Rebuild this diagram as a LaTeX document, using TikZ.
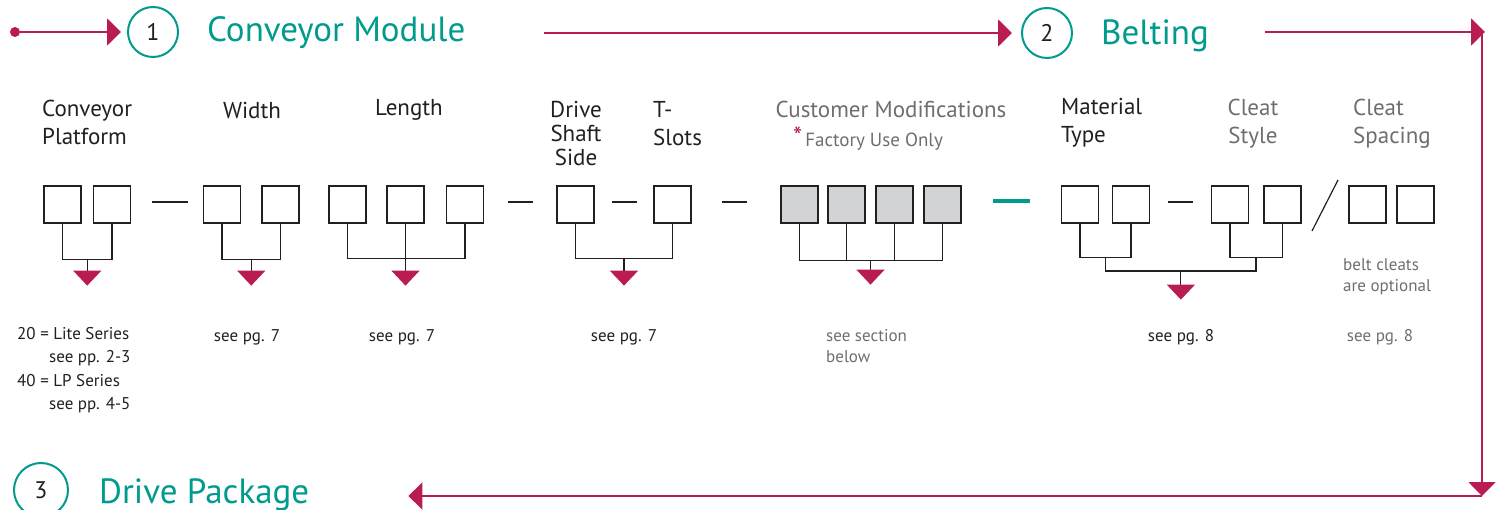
\documentclass[tikz,border=0pt]{standalone}
\usepackage{fontspec}
\setmainfont{PT Sans}
\usetikzlibrary{arrows.meta,calc}
\definecolor{crimson}{RGB}{184,28,82}
\definecolor{modteal}{RGB}{0,155,140}
\definecolor{ink}{RGB}{35,31,32}
\definecolor{dim}{RGB}{109,110,113}
\definecolor{cellgray}{RGB}{209,211,212}
\tikzset{
  cell/.style={draw=ink,line width=1.3pt,minimum size=37pt,inner sep=0pt},
  fcell/.style={cell,fill=cellgray},
  wire/.style={draw=ink,line width=1.2pt},
  drop/.style={wire,-{Triangle[width=28pt,length=15pt,color=crimson]}},
  flow/.style={draw=crimson,line width=2pt,-{Triangle[width=27pt,length=14pt]}},
  numring/.style={circle,draw=modteal,line width=2pt,minimum size=50pt,inner sep=0pt,
    text=ink,font=\fontsize{24}{28}\selectfont},
  head/.style={text=modteal,font=\fontsize{35}{40}\selectfont,anchor=base west,inner sep=0pt},
  field/.style={text=ink,font=\fontsize{23}{28}\selectfont,inner sep=0pt},
  note/.style={text=ink,font=\fontsize{17}{21}\selectfont,inner sep=0pt},
}
\begin{document}
\begin{tikzpicture}[x=1pt,y=1pt]
\useasboundingbox (0,0) rectangle (1497,-510);

% section heads and the flow round them
\node[circle,fill=crimson,minimum size=10pt,inner sep=0pt] (s0) at (15,-32) {};
\node[numring] (c1) at (153,-32) {1};
\node[head] (h1) at (207,-42) {Conveyor Module};
\node[numring] (c2) at (1047,-33) {2};
\node[head] (h2) at (1101,-45) {Belting};
\node[numring,minimum size=54pt] (c3) at (41,-490) {3};
\node[head] (h3) at (99,-503) {Drive Package};
\coordinate (ne) at (1485,-32);
\coordinate (se) at (1482,-496);

\draw[flow,shorten >=6pt] (s0) -- (c1);
\draw[flow,shorten >=9pt] ($(h1.east |- c2)+(78,0)$) -- (c2.west);
\draw[flow] ($(h2.east |- ne)+(56,0)$) -- (ne);
\draw[flow] (ne -| se) -- (se);
\draw[flow] (se) -- ($(h3.east |- se)+(99,0)$);

% column titles
\node[field,align=left,anchor=west] (lplat) at (42,-122) {Conveyor\\Platform};
\node[field] (lwid) at (252,-110) {Width};
\node[field] (llen) at (409,-110) {Length};
\node[field,align=center,font=\fontsize{23}{24}\selectfont] (ldrv) at (576,-133) {Drive\\Shaft\\Side};
\node[field,align=left,anchor=west] (lts) at (653,-124) {T-\\Slots};
\node[field,text=dim] (lcm) at (891,-109) {Customer Modifications};
\node[note,text=dim,font=\fontsize{19}{22}\selectfont] (lfu) at (868,-139)
  {\textcolor{crimson}{\fontsize{26}{26}\selectfont\raisebox{1pt}{*}}\,Factory Use Only};
\node[field,align=left,anchor=west] (lmat) at (1061,-123) {Material\\Type};
\node[field,text=dim,align=center] (lcs) at (1253,-124) {Cleat\\Style};
\node[field,text=dim,align=left,anchor=west] (lcsp) at (1353,-124) {Cleat\\Spacing};

% code cells
\foreach \n/\x in {p1/62.5,p2/112,w1/222,w2/280.5,l1/347.5,l2/405.5,l3/465,d1/575.5,t1/672.5,
    mt1/1080,mt2/1131,cs1/1230,cs2/1282.5,sp1/1367.5,sp2/1415.5}
  \node[cell] (\n) at (\x,-204.5) {};
\foreach \n/\x in {m1/799.5,m2/846.5,m3/894.5,m4/942.5}
  \node[fcell] (\n) at (\x,-204.5) {};

% separators
\foreach \a/\b in {152/188,508/533,612/637,722/747,1168/1193}
  \draw[wire] (\a,-202) -- (\b,-202);
\draw[draw=modteal,line width=4pt] (993,-201) -- (1030,-201);
\draw[wire] (1312,-231) -- (1338,-180);

% brackets
\draw[wire] (p1.south) -- ++(0,-36) -| (p2.south);
\draw[drop] ($(p1.south)!.5!(p2.south)+(0,-36)$) -- ++(0,-26);
\draw[wire] (w1.south) -- ++(0,-36) -| (w2.south);
\draw[drop] ($(w1.south)!.5!(w2.south)+(0,-36)$) -- ++(0,-26);
\draw[wire] (l1.south) -- ++(0,-35) -| (l3.south);
\draw[drop] (l2.south) -- ++(0,-62);
\draw[wire] (d1.south) -- ++(0,-35) -| (t1.south);
\draw[drop] ($(d1.south)!.5!(t1.south)+(0,-35)$) -- ++(0,-27);
\draw[wire] (m1.south) -- ++(0,-37) -| (m4.south);
\draw[wire] (m2.south) -- ++(0,-37) (m3.south) -- ++(0,-37);
\draw[drop] ($(m2.south)!.5!(m3.south)+(0,-37)$) -- ++(0,-24);
\draw[wire] (mt1.south) -- ++(0,-34) -| (mt2.south);
\draw[wire] (cs1.south) -- ++(0,-34) -| (cs2.south);
\coordinate (ja) at ($(mt1.south)!.5!(mt2.south)+(0,-34)$);
\coordinate (jb) at ($(cs1.south)!.5!(cs2.south)+(0,-34)$);
\draw[wire,line width=1.8pt] (ja) -- ++(0,-13) -| (jb);
\draw[drop] ($(ja)!.5!(jb)+(0,-13)$) -- ++(0,-29);

% notes
\node[note,align=left,anchor=west,font=\fontsize{17}{23.3}\selectfont] (nplat) at (17,-370)
  {20 = Lite Series\\\hspace*{32pt}see pp. 2-3\\40 = LP Series\\\hspace*{32pt}see pp. 4-5};
\node[note] (nwid) at (247,-337) {see pg. 7};
\node[note] (nlen) at (402,-337) {see pg. 7};
\node[note] (ndrv) at (624,-337) {see pg. 7};
\node[note,text=dim,align=left,anchor=west] (ncm) at (826,-346) {see section\\below};
\node[note,text=dim,align=left,anchor=west] (nopt) at (1343,-277) {belt cleats\\are optional};
\node[note] (nmat) at (1181,-337) {see pg. 8};
\node[note,text=dim] (nsp) at (1380,-337) {see pg. 8};
\end{tikzpicture}
\end{document}
